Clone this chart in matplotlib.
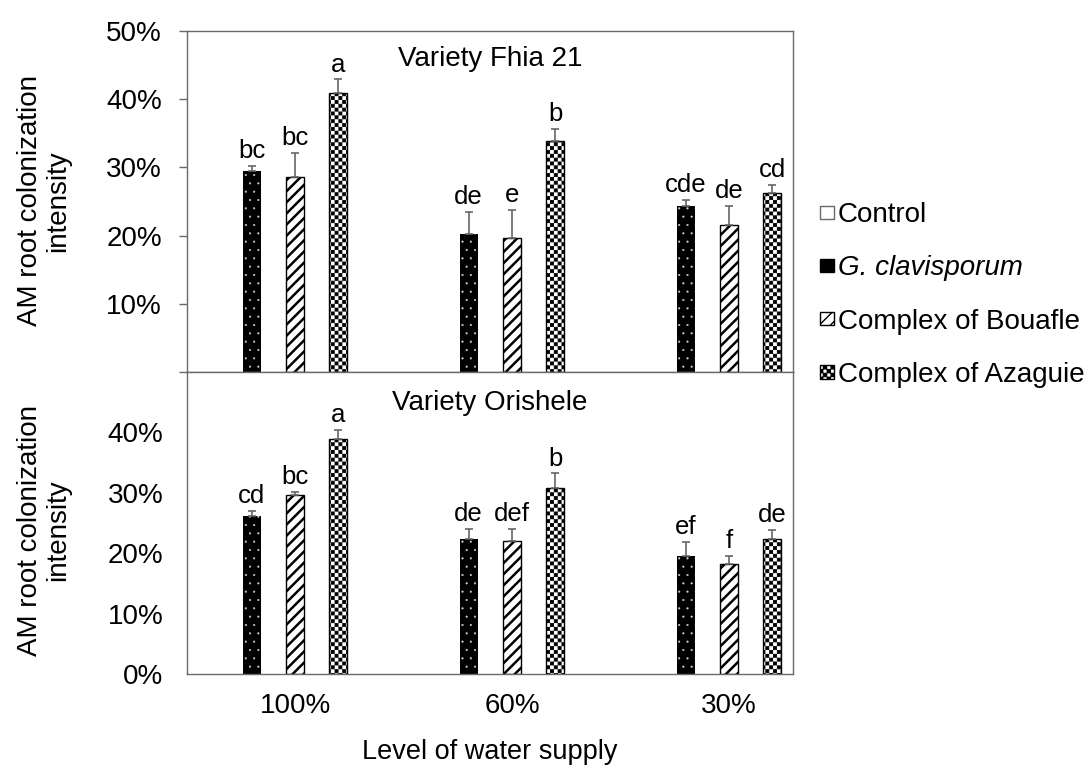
import numpy as np
import matplotlib
matplotlib.use('Agg')
import matplotlib.pyplot as plt
import matplotlib.hatch as mhatch
from matplotlib.path import Path
from matplotlib.patches import Patch

plt.rcParams['font.family'] = ['Liberation Sans', 'DejaVu Sans']
plt.rcParams['hatch.linewidth'] = 1.0


# checkerboard fill for the Azaguie bars ('*' is taken over for it)
class CheckerHatch(mhatch.HatchPatternBase):
    def __init__(self, hatch, density):
        self.n = 26 * hatch.count('*')
        self.num_vertices = (self.n * self.n // 2) * 5

    def set_vertices_and_codes(self, vertices, codes):
        n = self.n
        s = 1.0 / n
        m = 0.004
        sq = np.array([[m, m], [s - m, m], [s - m, s - m], [m, s - m], [m, m]])
        parts = [sq + [j * s, i * s] for i in range(n) for j in range(n) if (i + j) % 2 == 0]
        vertices[:] = np.concatenate(parts)
        codes[:] = np.tile([Path.MOVETO, Path.LINETO, Path.LINETO, Path.LINETO, Path.CLOSEPOLY], len(parts))


mhatch._hatch_types = [t for t in mhatch._hatch_types if t is not mhatch.Stars] + [CheckerHatch]

# data
water = ['100%', '60%', '30%']
series = ['Control', 'G. clavisporum', 'Complex of Bouafle', 'Complex of Azaguie']

# Variety Fhia 21
fhia_gc = [0.295, 0.202, 0.244]
fhia_gc_err = [0.007, 0.033, 0.008]
fhia_bou = [0.286, 0.196, 0.215]
fhia_bou_err = [0.035, 0.042, 0.029]
fhia_aza = [0.409, 0.339, 0.262]
fhia_aza_err = [0.020, 0.018, 0.012]
fhia_letters_gc = ['bc', 'de', 'cde']
fhia_letters_bou = ['bc', 'e', 'de']
fhia_letters_aza = ['a', 'b', 'cd']

# Variety Orishele
ori_gc = [0.261, 0.224, 0.196]
ori_gc_err = [0.009, 0.016, 0.023]
ori_bou = [0.296, 0.221, 0.182]
ori_bou_err = [0.006, 0.019, 0.013]
ori_aza = [0.389, 0.308, 0.224]
ori_aza_err = [0.015, 0.024, 0.014]
ori_letters_gc = ['cd', 'de', 'ef']
ori_letters_bou = ['bc', 'def', 'f']
ori_letters_aza = ['a', 'b', 'de']

spine_col = '#6a6a6a'
err_col = '#666666'
x = np.arange(len(water))
w = 0.083
off = 0.2

styles = [
    dict(facecolor='black', edgecolor='#d0d0d0', linewidth=0, hatch='..'),
    dict(facecolor='white', edgecolor='black', linewidth=1.0, hatch='///'),
    dict(facecolor='white', edgecolor='black', linewidth=1.0, hatch='*'),
]
hatch_lw = [0.3, 1.8, 0.6]


def set_hlw(p, lw):
    if hasattr(p, 'set_hatch_linewidth'):
        p.set_hatch_linewidth(lw)


def draw_panel(ax, vals, errs, letters, title, title_y):
    for k, (v, e, lab) in enumerate(zip(vals, errs, letters)):
        pos = x + (k - 1) * off
        bars = ax.bar(pos, v, width=w, **styles[k])
        for b in bars:
            set_hlw(b, hatch_lw[k])
            if k == 0:
                b.set_edgecolor('#d0d0d0')
        ax.errorbar(pos, v, yerr=[np.zeros(len(v)), e], fmt='none', ecolor=err_col,
                    elinewidth=1.2, capsize=3, capthick=1.2)
        for px, py, pe, t in zip(pos, v, e, lab):
            ax.annotate(t, (px, py + pe), xytext=(0, 2), textcoords='offset points',
                        ha='center', va='bottom', fontsize=18.5)
    ax.text(0.5, title_y, title, transform=ax.transAxes, ha='center', va='center', fontsize=20)
    ax.set_xlim(-0.498, 2.295)
    ax.set_ylim(0, 0.5)
    for s in ax.spines.values():
        s.set_color(spine_col)
        s.set_linewidth(1.0)


fig = plt.figure(figsize=(10.9, 7.75), dpi=100)
ax1 = fig.add_axes([187 / 1090, 1 - 372 / 775, 606 / 1090, 341 / 775])
ax2 = fig.add_axes([187 / 1090, 1 - 674 / 775, 606 / 1090, 302 / 775])

draw_panel(ax1, [fhia_gc, fhia_bou, fhia_aza], [fhia_gc_err, fhia_bou_err, fhia_aza_err],
           [fhia_letters_gc, fhia_letters_bou, fhia_letters_aza], 'Variety Fhia 21', 1 - 28 / 341)
draw_panel(ax2, [ori_gc, ori_bou, ori_aza], [ori_gc_err, ori_bou_err, ori_aza_err],
           [ori_letters_gc, ori_letters_bou, ori_letters_aza], 'Variety Orishele', 1 - 31 / 302)

ticks = [0, 0.1, 0.2, 0.3, 0.4, 0.5]
ax1.set_yticks(ticks)
ax1.set_yticklabels([''] + ['%d%%' % round(t * 100) for t in ticks[1:]])
ax1.tick_params(axis='y', direction='out', length=6, width=1, color=spine_col, pad=12, labelsize=20)
ax1.set_xticks([])

ax2.set_yticks(ticks[:-1])
ax2.set_yticklabels(['%d%%' % round(t * 100) for t in ticks[:-1]])
ax2.tick_params(axis='y', length=0, pad=17, labelsize=20)
ax2.set_xticks(x)
ax2.set_xticklabels(water)
ax2.tick_params(axis='x', length=0, pad=14, labelsize=20)

fig.text(44 / 1090, 1 - 201 / 775, 'AM root colonization\nintensity', rotation=90,
         ha='center', va='center', fontsize=20, linespacing=1.1)
fig.text(44 / 1090, 1 - 530 / 775, 'AM root colonization\nintensity', rotation=90,
         ha='center', va='center', fontsize=20, linespacing=1.1)
fig.text(490 / 1090, 1 - 752 / 775, 'Level of water supply', ha='center', va='center', fontsize=19.5)

handles = [Patch(facecolor='white', edgecolor=spine_col, linewidth=1.0)]
handles += [Patch(**st) for st in styles]
handles[1].set_edgecolor('black')
handles[1].set_linewidth(1.0)
for h, lw in zip(handles[1:], hatch_lw):
    set_hlw(h, lw)
leg = fig.legend(handles, series, loc='center left', bbox_to_anchor=(820 / 1090, 1 - 295 / 775),
                 frameon=False, fontsize=20, handlelength=0.5, handleheight=0.36,
                 handletextpad=0.15, labelspacing=0.98, borderpad=0, borderaxespad=0)
leg.get_texts()[1].set_style('italic')

fig.savefig('out.png', dpi=100)
